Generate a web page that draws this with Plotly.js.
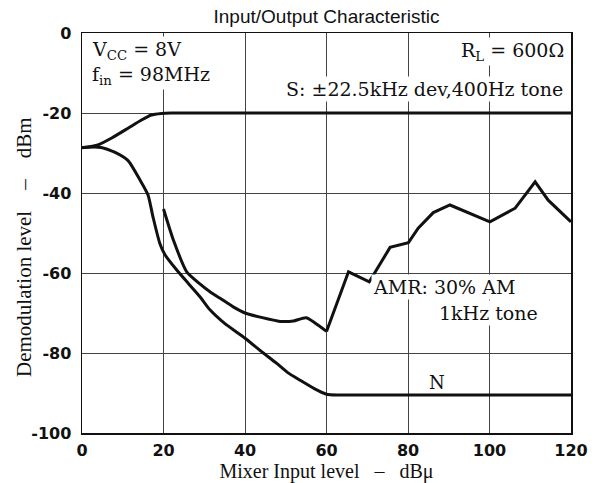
<!DOCTYPE html>
<html>
<head>
<meta charset="utf-8">
<script src="https://cdn.plot.ly/plotly-3.0.1.min.js"></script>
<style>html,body{margin:0;padding:0;background:#fff}#chart{width:598px;height:483px}</style>
</head>
<body>
<div id="chart"></div>
<script>
// Signal (S) curve
const sX = [0, 3.9, 7.2, 11.3, 14.6, 17, 19.5, 22, 40, 60, 80, 100, 120];
const sY = [-28.7, -28, -26.3, -23.8, -21.75, -20.5, -20.1, -20, -20, -20, -20, -20, -20];
// Noise (N) curve
const nX = [0, 4.7, 8, 11.3, 14.2, 16.2, 17.4, 19.1, 20.4, 23.2, 26, 29, 31.4, 35, 40, 44, 47.8, 50.5, 53.5, 57, 60, 63, 80, 100, 120];
const nY = [-28.6, -28.6, -29.8, -31.9, -36.7, -40.5, -45.9, -52.6, -55.5, -59.2, -62.5, -66, -69.2, -72.6, -76.3, -79.6, -82.6, -84.9, -86.8, -88.9, -90.3, -90.5, -90.5, -90.5, -90.5];
// AMR curve: smooth part (low input) and jagged part (high input)
const amrLowX = [20, 22.4, 25.7, 29, 31.4, 34, 37, 40, 44, 48.6, 51.9, 55, 60];
const amrLowY = [-44, -51.7, -59.7, -62.8, -64.7, -66.4, -68.4, -70, -71.1, -72.1, -72, -71.2, -74.6];
const amrHighX = [60, 65.4, 70.5, 75.6, 80.1, 82.5, 86.2, 90.3, 100.1, 106.3, 111.2, 114.4, 120];
const amrHighY = [-74.6, -59.7, -62.2, -53.6, -52.4, -48.8, -44.9, -43, -47.2, -43.8, -37.2, -41.8, -47.2];
const xTicks = [0, 20, 40, 60, 80, 100, 120];
const yTicks = [0, -20, -40, -60, -80, -100];

const smooth = {color: '#111', width: 3, shape: 'spline', smoothing: 0.6};
const traces = [
  {x: sX, y: sY, mode: 'lines', line: smooth, hoverinfo: 'skip'},
  {x: nX, y: nY, mode: 'lines', line: smooth, hoverinfo: 'skip'},
  {x: amrLowX, y: amrLowY, mode: 'lines', line: {color: '#111', width: 3, shape: 'spline', smoothing: 0.5}, hoverinfo: 'skip'},
  {x: amrHighX, y: amrHighY, mode: 'lines', line: {color: '#111', width: 3, shape: 'linear'}, hoverinfo: 'skip'}
];

const serif = '"DejaVu Serif", "Liberation Serif", serif';
const tserif = '"Liberation Serif", "Times New Roman", serif';
const tickFont = {family: '"DejaVu Sans", Arial, sans-serif', size: 16, color: '#111', weight: 'bold'};
const ann = (x, y, text, xanchor, size) => ({
  x: x, y: y, xref: 'x', yref: 'y', text: text, showarrow: false,
  xanchor: xanchor, yanchor: 'middle',
  font: {family: serif, size: size || 19, color: '#111'},
  bgcolor: '#fff', borderpad: 1
});

const layout = {
  width: 598, height: 483,
  margin: {l: 82, r: 27, t: 33, b: 50},
  paper_bgcolor: '#fff', plot_bgcolor: '#fff',
  showlegend: false,
  title: {text: 'Input/Output Characteristic', x: 0.5, xref: 'paper', xanchor: 'center', y: 0.967, yanchor: 'middle',
          font: {family: '"Liberation Sans", Arial, sans-serif', size: 19, color: '#111'}},
  xaxis: {
    range: [0, 120], tickvals: xTicks, ticktext: xTicks.map(String),
    showgrid: true, gridcolor: '#444', gridwidth: 1,
    zeroline: false, showline: true, linecolor: '#111', linewidth: 1.5, mirror: true,
    ticks: '', ticklen: 0, ticklabelstandoff: 2,
    tickfont: tickFont,
    title: {text: 'Mixer Input level \u00a0 \u2013 \u00a0 dB\u03bc', standoff: 2,
            font: {family: tserif, size: 20, color: '#111'}}
  },
  yaxis: {
    range: [-100, 0], tickvals: yTicks, ticktext: yTicks.map(v => v === 0 ? '0' : '-' + Math.abs(v)),
    showgrid: true, gridcolor: '#444', gridwidth: 1,
    zeroline: false, showline: true, linecolor: '#111', linewidth: 1.5, mirror: true,
    ticks: '', ticklen: 0, ticklabelstandoff: 6,
    tickfont: tickFont
  },
  annotations: [
    {x: 0, y: 0, xref: 'paper', yref: 'paper', text: 'Demodulation level \u00a0\u00a0 \u2013 \u00a0\u00a0 dBm',
     showarrow: false, textangle: -90, xanchor: 'center', yanchor: 'middle',
     font: {family: tserif, size: 21, color: '#111'}},
    ann(2.0, -4.3, 'V<sub>CC</sub> = 8V', 'left'),
    ann(2.0, -10.6, 'f<sub>in</sub> = 98MHz', 'left'),
    ann(118.8, -4.5, 'R<sub>L</sub> = 600\u03a9', 'right'),
    ann(118.5, -14.1, 'S: \u00b122.5kHz dev,400Hz tone', 'right'),
    ann(71.0, -63.6, 'AMR: 30% AM', 'left'),
    ann(87.0, -69.9, '1kHz tone', 'left'),
    {x: 87.2, y: -87.3, xref: 'x', yref: 'y', text: 'N', showarrow: false, xanchor: 'center', yanchor: 'middle',
     font: {family: serif, size: 18, color: '#111'}}
  ]
};
// place y title annotation in pixel coords converted to paper
layout.annotations[0].x = (24 - 82) / (598 - 82 - 27);
layout.annotations[0].y = 1 - (247 - 33) / (483 - 33 - 50);

Plotly.newPlot('chart', traces, layout, {staticPlot: true, displayModeBar: false});
</script>
</body>
</html>
